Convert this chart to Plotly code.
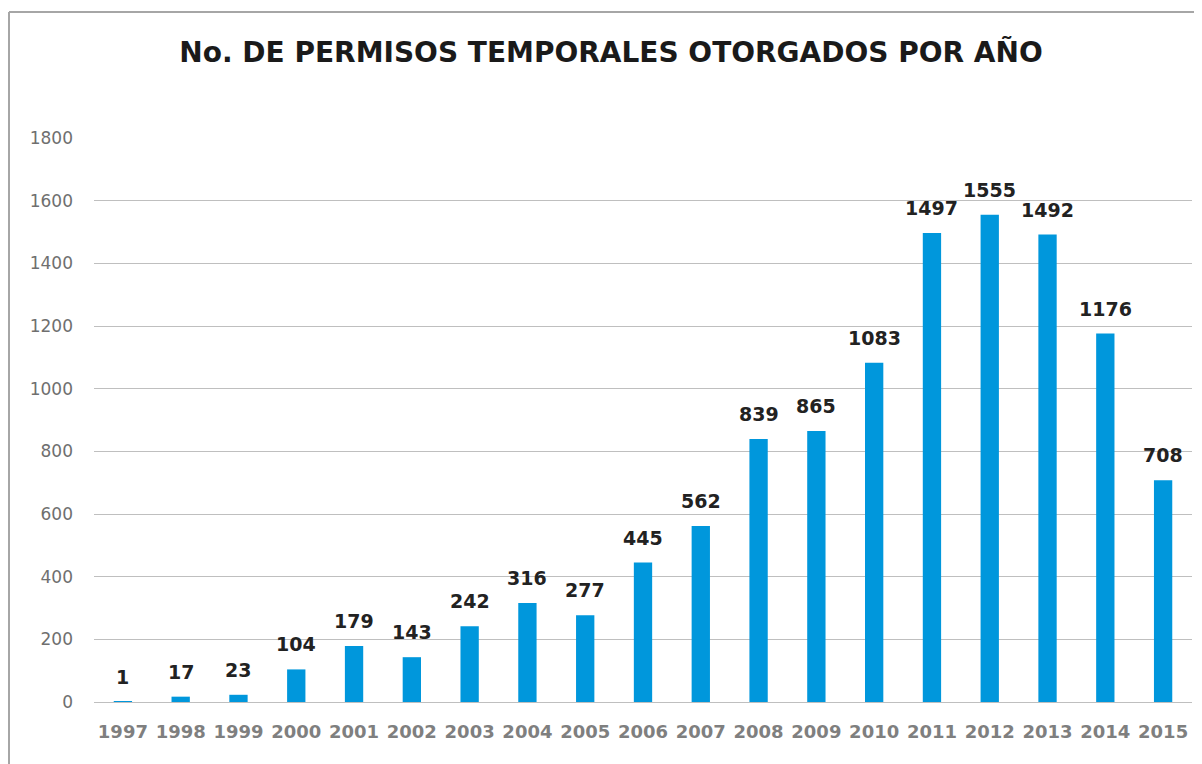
import plotly.graph_objects as go

years = ["1997", "1998", "1999", "2000", "2001", "2002", "2003", "2004", "2005", "2006",
         "2007", "2008", "2009", "2010", "2011", "2012", "2013", "2014", "2015"]
permisos = [1, 17, 23, 104, 179, 143, 242, 316, 277, 445,
            562, 839, 865, 1083, 1497, 1555, 1492, 1176, 708]
y_ticks = [0, 200, 400, 600, 800, 1000, 1200, 1400, 1600, 1800]
title_text = "No. DE PERMISOS TEMPORALES OTORGADOS POR AÑO"

# the page body has an 8px margin, so the figure is 8px smaller than the window
W, H = 1194, 756
ML, MR, MT, MB = 86, 10, 130, 62
pw = W - ML - MR
ph = H - MT - MB

fig = go.Figure()
fig.add_trace(go.Bar(x=years, y=permisos, marker=dict(color="#0097DC", line=dict(width=0)),
                     hoverinfo="x+y"))

# category-axis annotations use the serial index of each category
for i, v in enumerate(permisos):
    fig.add_annotation(x=i, y=v, text=f"<b>{v}</b>", showarrow=False, yanchor="bottom",
                       yshift=12, font=dict(family="DejaVu Sans", size=19, color="#222222"))

def px_x(p):
    return (p - ML) / pw
def px_y(p):
    return (H - MB - p) / ph

fig.add_shape(type="line", xref="paper", yref="paper", x0=px_x(1), x1=px_x(1220),
              y0=px_y(4), y1=px_y(4), line=dict(color="#A6A6A6", width=2))
fig.add_shape(type="line", xref="paper", yref="paper", x0=px_x(1), x1=px_x(1),
              y0=px_y(4), y1=px_y(780), line=dict(color="#A6A6A6", width=2))

fig.update_layout(
    width=W, height=H,
    margin=dict(l=ML, r=MR, t=MT, b=MB),
    paper_bgcolor="white", plot_bgcolor="white",
    bargap=0.683,
    showlegend=False,
    title=dict(text=f"<b>{title_text}</b>", x=603 / W, xanchor="center", xref="container",
               y=1 - 44 / H, yanchor="middle",
               font=dict(family="DejaVu Sans", size=28, color="#1a1a1a")),
    xaxis=dict(type="category", range=[-0.5, len(years) - 0.5], showgrid=False,
               showline=False, zeroline=False,
               tickfont=dict(family="DejaVu Sans", size=18, color="#7F7F7F", weight="bold"),
               ticks="", ticklabelstandoff=17),
    yaxis=dict(range=[0, 1800], tickvals=y_ticks, showgrid=True, gridcolor="#BFBFBF",
               gridwidth=1.3, zeroline=True, zerolinecolor="#BFBFBF", zerolinewidth=1.3,
               showline=False, ticks="",
               tickfont=dict(family="DejaVu Sans", size=17, color="#6F6F6F"),
               ticklabelstandoff=20),
)

fig.write_html("out.html")
